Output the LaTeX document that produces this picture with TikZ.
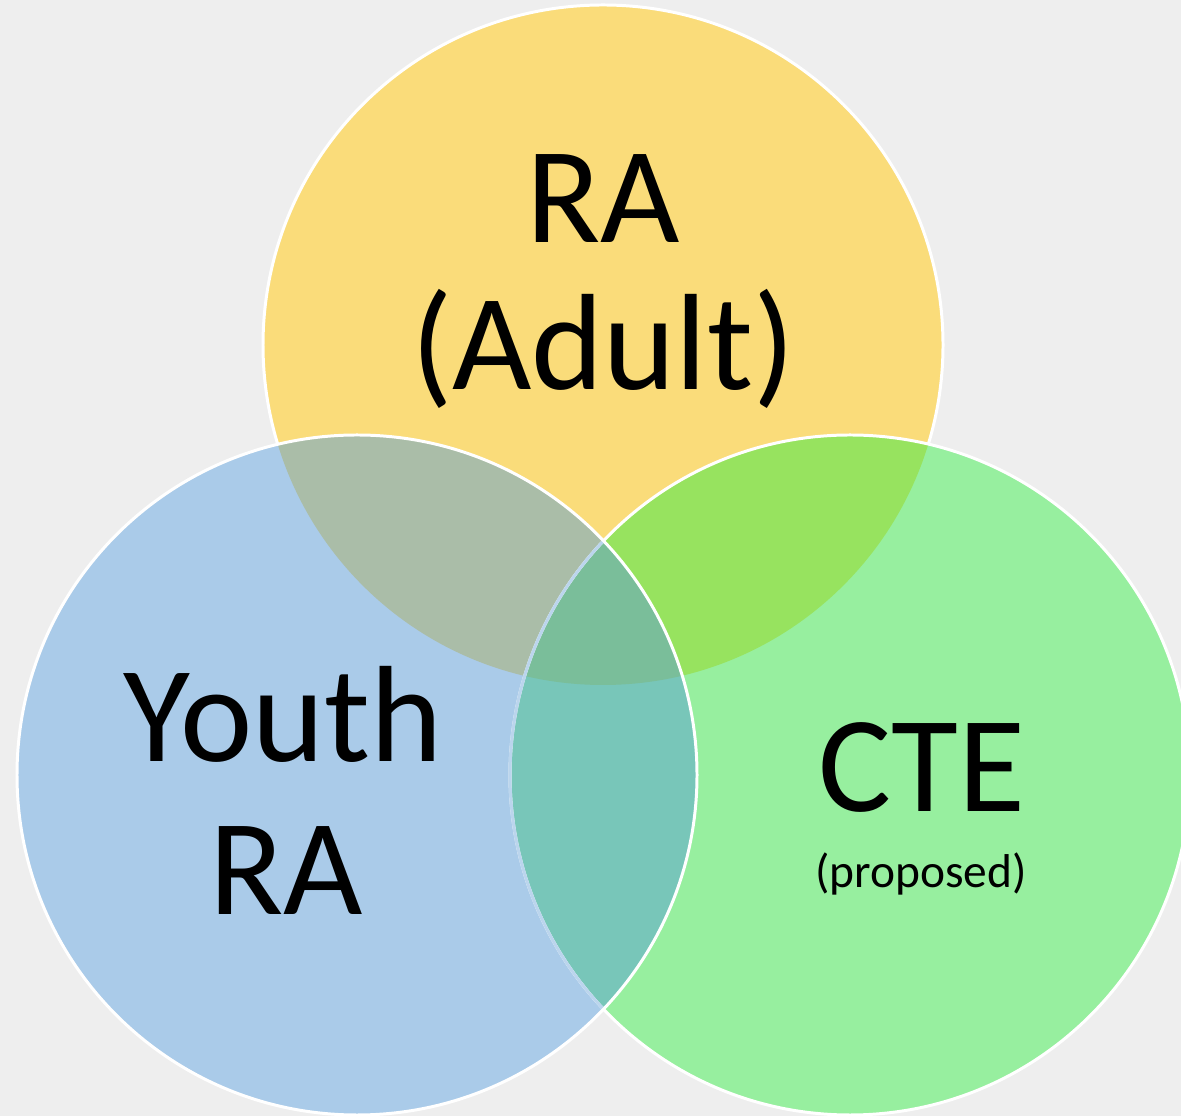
\documentclass[tikz,border=0pt]{standalone}
\usepackage{fontspec}
\setmainfont{Carlito}
\usetikzlibrary{positioning}

\definecolor{raYellow}{HTML}{FADC7A}
\definecolor{youthBlue}{HTML}{AACBE9}
\definecolor{cteGreen}{HTML}{97EF9F}
\definecolor{raYouth}{HTML}{AABDA8}
\definecolor{raCte}{HTML}{97E35F}
\definecolor{youthCte}{HTML}{78C6B9}
\definecolor{allThree}{HTML}{7ABE9A}
\definecolor{paper}{HTML}{EEEEEE}

\begin{document}
\begin{tikzpicture}[rim/.style={draw=white, line width=1.7pt},
    biglabel/.style={font=\fontsize{78}{84}\selectfont, anchor=base, inner sep=0pt},
    smalllabel/.style={font=\fontsize{27}{30}\selectfont, anchor=base, inner sep=0pt}]
    % Canvas
    \fill[paper] (0,0) rectangle (23.62,22.32);
    \useasboundingbox (0,0) rectangle (23.62,22.32);
    \coordinate (ra) at (12.06,15.42);
    \coordinate (youth) at (7.14,6.82);
    \coordinate (cte) at (17.0,6.82);
    \def\rad{6.8}

    % Circles
    \fill[raYellow] (ra) circle (\rad);
    \draw[rim] (ra) circle (\rad);
    \fill[cteGreen] (cte) circle (\rad);
    \fill[youthBlue] (youth) circle (\rad);

    % Overlaps
    \begin{scope}
        \clip (ra) circle (\rad);
        \fill[raYouth] (youth) circle (\rad);
        \fill[raCte] (cte) circle (\rad);
    \end{scope}
    \begin{scope}
        \clip (youth) circle (\rad);
        \fill[youthCte] (cte) circle (\rad);
        \clip (ra) circle (\rad);
        \fill[allThree] (cte) circle (\rad);
    \end{scope}

    % Rims
    \draw[rim] (cte) circle (\rad);
    \begin{scope}
        \clip (youth) circle (\rad);
        \draw[rim, draw=youthBlue!80!white] (cte) circle (\rad);
    \end{scope}
    \draw[rim] (youth) circle (\rad);

    % Labels
    \node[biglabel] (raTop) at (12.06,17.46) {RA};
    \node[biglabel] (raAdult) at (12.06,14.52) {(Adult)};
    \node[biglabel] (youthTop) at (5.66,7.08) {Youth};
    \node[biglabel] (youthRa) at (5.72,4.02) {RA};
    \node[biglabel] (cteTop) at (18.44,6.08) {CTE};
    \node[smalllabel] (cteNote) at (18.42,4.56) {(proposed)};
\end{tikzpicture}
\end{document}
